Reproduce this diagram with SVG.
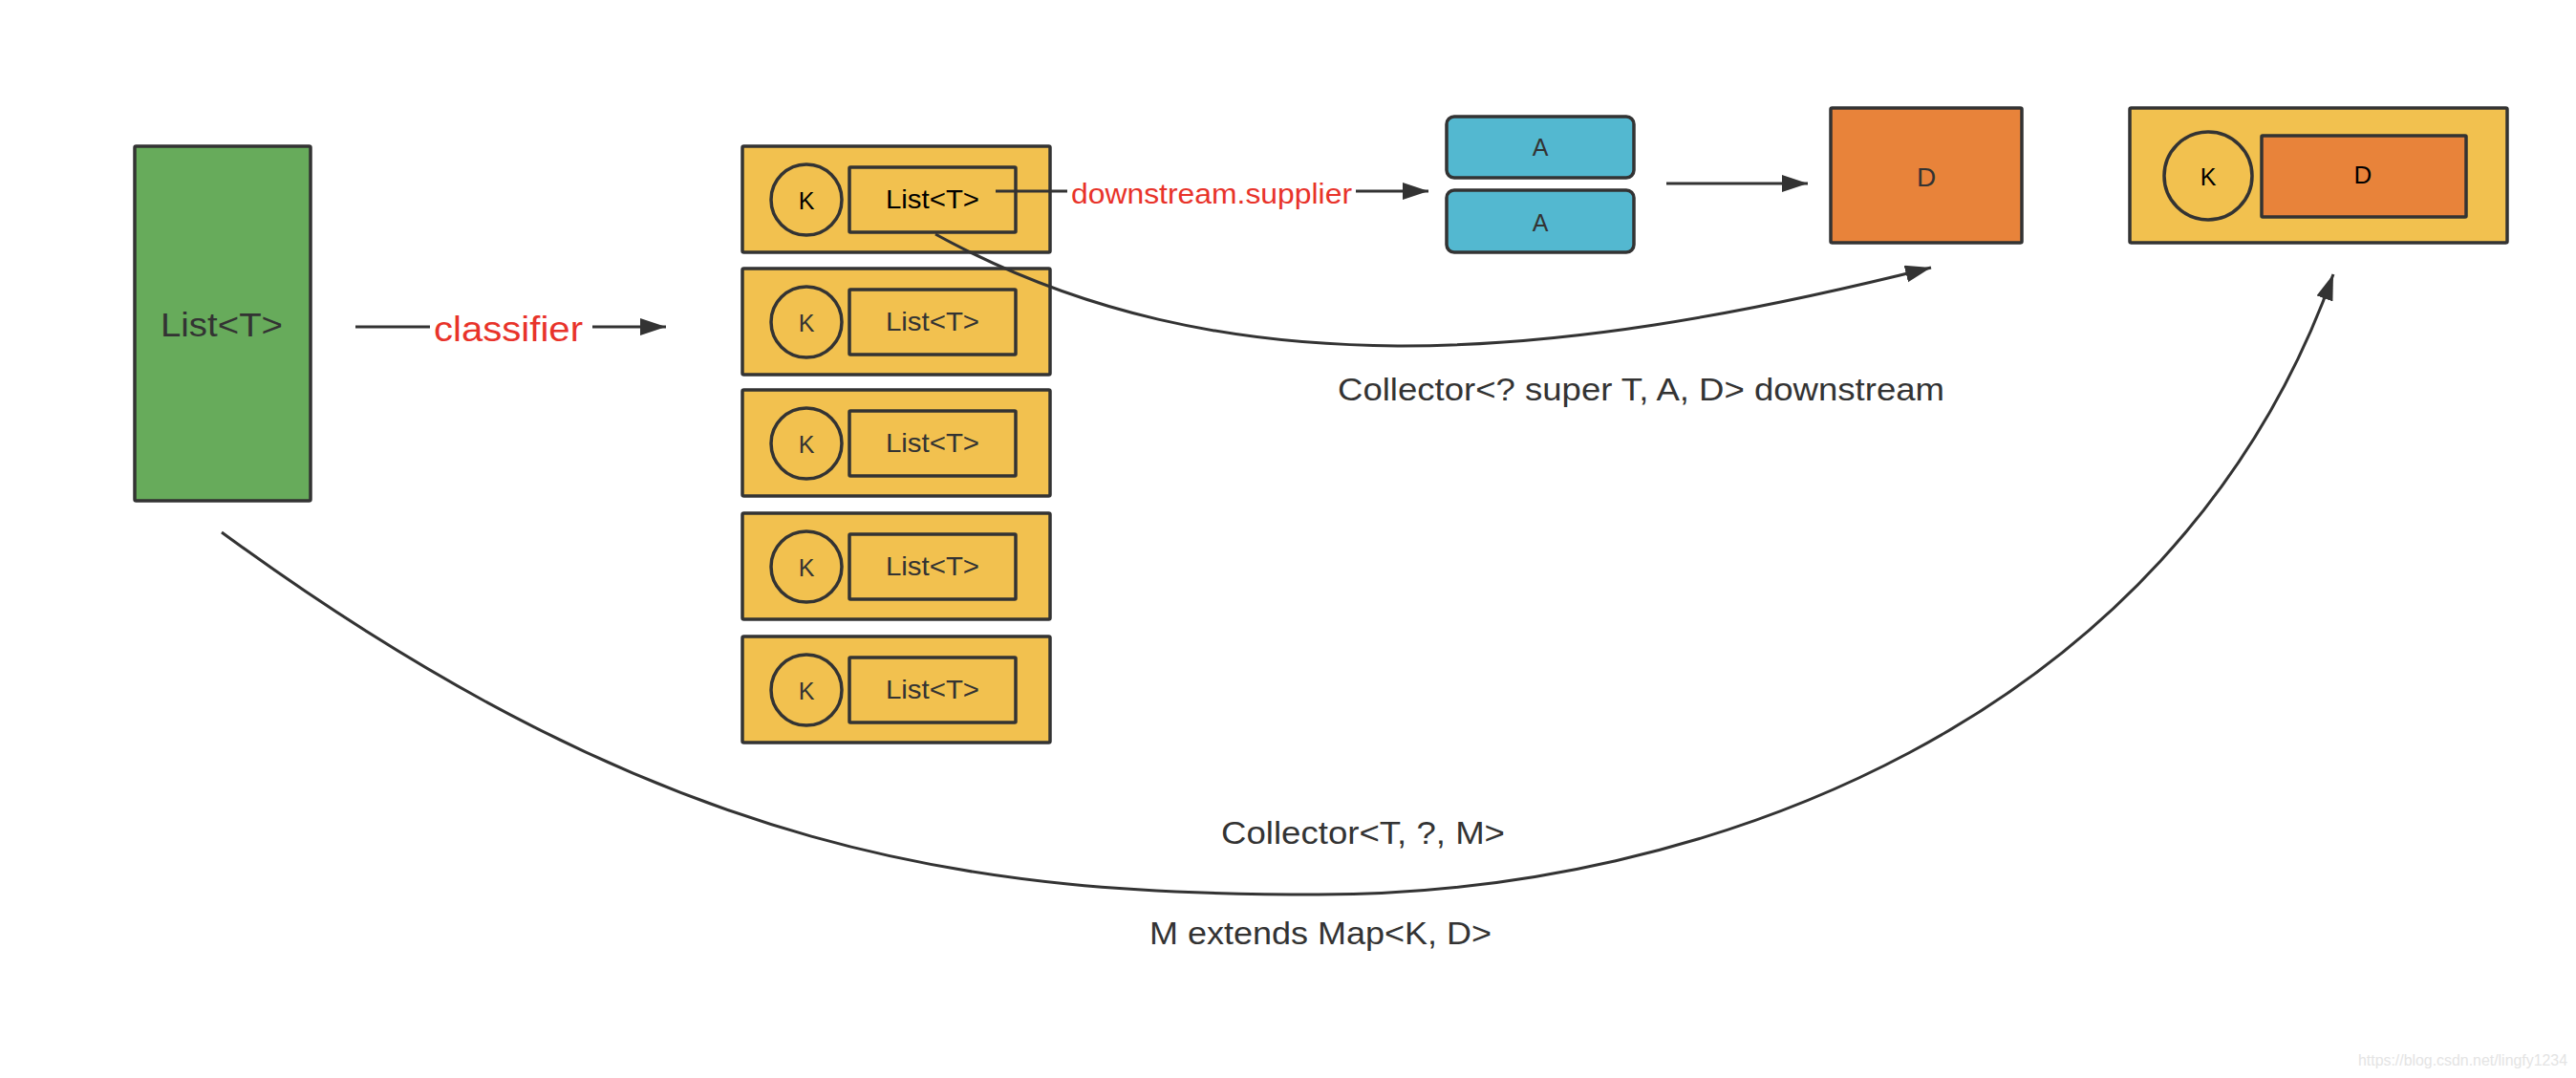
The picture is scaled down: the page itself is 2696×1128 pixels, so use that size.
<svg xmlns="http://www.w3.org/2000/svg" width="2696" height="1128" viewBox="0 0 2696 1128">
<style>
.box{stroke:#333333;stroke-width:3.5}
.green{fill:#67AB5B}
.yellow{fill:#F2C14F}
.orange{fill:#E8833A}
.blue{fill:#53B8D0}
.t{font-family:"Liberation Sans",Arial,Helvetica,sans-serif;fill:#333333}
.red{fill:#E8332A}
.blk{fill:#000000}
.c{text-anchor:middle}
.edge{fill:none;stroke:#333333;stroke-width:3}
</style>
<defs>
<marker id="arrow" markerUnits="userSpaceOnUse" markerWidth="28" markerHeight="20" refX="27" refY="9" orient="auto" viewBox="0 0 28 20">
<path d="M0,0 L27,9 L0,18 z" fill="#333333"/>
</marker>
</defs>
<rect width="2696" height="1128" fill="#ffffff"/>

<g id="list-source">
<rect class="box green" x="141" y="153" width="184" height="371" rx="1.5"/>
<text class="t" x="168" y="352" font-size="35" textLength="128" lengthAdjust="spacingAndGlyphs">List&lt;T&gt;</text>
</g>

<g id="group-1">
<rect class="box yellow" x="777" y="153" width="322" height="111" rx="1.5"/>
<ellipse class="box yellow" cx="844" cy="209" rx="37" ry="37"/>
<rect class="box yellow" x="889" y="175" width="174" height="68" rx="1"/>
<text class="t c blk" x="844" y="219" font-size="25">K</text>
<text class="t blk" x="927" y="218" font-size="28" textLength="98" lengthAdjust="spacingAndGlyphs">List&lt;T&gt;</text>
</g>
<g id="group-2">
<rect class="box yellow" x="777" y="281" width="322" height="111" rx="1.5"/>
<circle class="box yellow" cx="844" cy="337" r="37"/>
<rect class="box yellow" x="889" y="303" width="174" height="68" rx="1"/>
<text class="t c" x="844" y="347" font-size="25">K</text>
<text class="t" x="927" y="346" font-size="28" textLength="98" lengthAdjust="spacingAndGlyphs">List&lt;T&gt;</text>
</g>
<g id="group-3">
<rect class="box yellow" x="777" y="408" width="322" height="111" rx="1.5"/>
<circle class="box yellow" cx="844" cy="464" r="37"/>
<rect class="box yellow" x="889" y="430" width="174" height="68" rx="1"/>
<text class="t c" x="844" y="474" font-size="25">K</text>
<text class="t" x="927" y="473" font-size="28" textLength="98" lengthAdjust="spacingAndGlyphs">List&lt;T&gt;</text>
</g>
<g id="group-4">
<rect class="box yellow" x="777" y="537" width="322" height="111" rx="1.5"/>
<circle class="box yellow" cx="844" cy="593" r="37"/>
<rect class="box yellow" x="889" y="559" width="174" height="68" rx="1"/>
<text class="t c" x="844" y="603" font-size="25">K</text>
<text class="t" x="927" y="602" font-size="28" textLength="98" lengthAdjust="spacingAndGlyphs">List&lt;T&gt;</text>
</g>
<g id="group-5">
<rect class="box yellow" x="777" y="666" width="322" height="111" rx="1.5"/>
<circle class="box yellow" cx="844" cy="722" r="37"/>
<rect class="box yellow" x="889" y="688" width="174" height="68" rx="1"/>
<text class="t c" x="844" y="732" font-size="25">K</text>
<text class="t" x="927" y="731" font-size="28" textLength="98" lengthAdjust="spacingAndGlyphs">List&lt;T&gt;</text>
</g>

<g id="accumulator-1">
<rect class="box blue" x="1514" y="122" width="196" height="64" rx="8"/>
<text class="t c" x="1612" y="163" font-size="25">A</text>
</g>
<g id="accumulator-2">
<rect class="box blue" x="1514" y="199" width="196" height="65" rx="8"/>
<text class="t c" x="1612" y="242" font-size="25">A</text>
</g>

<g id="result-d">
<rect class="box orange" x="1916" y="113" width="200" height="141" rx="1.5"/>
<text class="t c" x="2016" y="195" font-size="28">D</text>
</g>

<g id="map-entry">
<rect class="box yellow" x="2229" y="113" width="395" height="141" rx="1.5"/>
<circle class="box yellow" cx="2311" cy="184" r="46"/>
<rect class="box orange" x="2367" y="142" width="214" height="85" rx="1"/>
<text class="t c blk" x="2311" y="194" font-size="25">K</text>
<text class="t c blk" x="2473" y="192" font-size="26">D</text>
</g>

<g id="connectors">
<path class="edge" d="M372,342 L697,342" marker-end="url(#arrow)"/>
<rect x="450" y="318" width="170" height="50" fill="#ffffff"/>
<text class="t red" x="454" y="357" font-size="36" textLength="156" lengthAdjust="spacingAndGlyphs">classifier</text>
<path class="edge" d="M1042,200 L1495,200" marker-end="url(#arrow)"/>
<rect x="1117" y="180" width="302" height="42" fill="#ffffff"/>
<text class="t red" x="1121" y="213" font-size="29" textLength="294" lengthAdjust="spacingAndGlyphs">downstream.supplier</text>
<path class="edge" d="M1744,192 L1892,192" marker-end="url(#arrow)"/>
<path class="edge" d="M979,245 C1279,410 1621,380 2021,280" marker-end="url(#arrow)"/>
<path class="edge" d="M232,557 C700,900 1027,936 1380,936 C1780,936 2274,757 2442,287" marker-end="url(#arrow)"/>
<text class="t" x="1400" y="419" font-size="33" textLength="635" lengthAdjust="spacingAndGlyphs">Collector&lt;? super T, A, D&gt; downstream</text>
<text class="t" x="1278" y="883" font-size="34" textLength="297" lengthAdjust="spacingAndGlyphs">Collector&lt;T, ?, M&gt;</text>
<text class="t" x="1203" y="988" font-size="34" textLength="358" lengthAdjust="spacingAndGlyphs">M extends Map&lt;K, D&gt;</text>
</g>

<text x="2468" y="1115" font-family="Liberation Sans, Arial, sans-serif" font-size="16" fill="#e4e4e4" textLength="219" lengthAdjust="spacingAndGlyphs">https://blog.csdn.net/lingfy1234</text>
</svg>
